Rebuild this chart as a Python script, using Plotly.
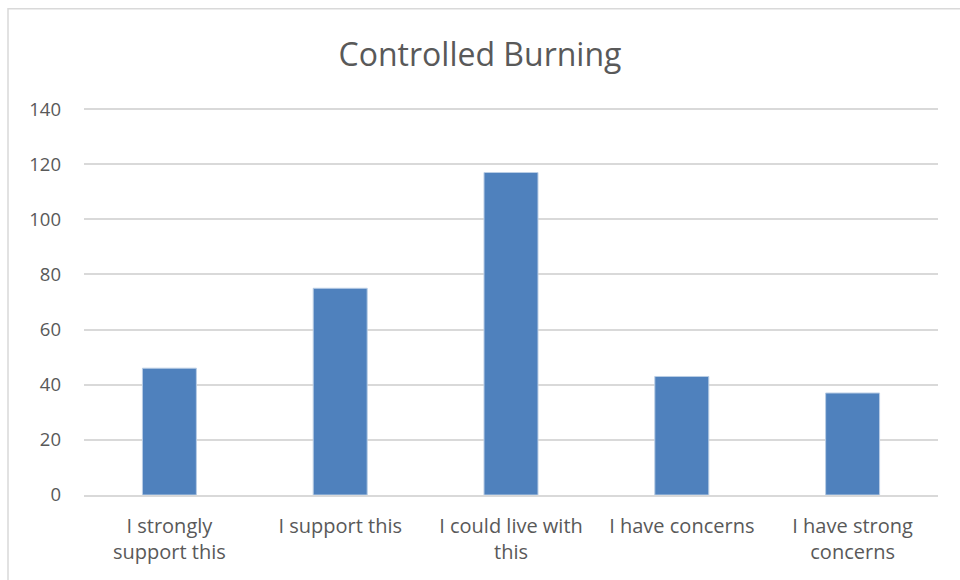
import plotly.graph_objects as go

# Survey responses: Controlled Burning
categories = [
    "I strongly<br>support this",
    "I support this",
    "I could live with<br>this",
    "I have concerns",
    "I have strong<br>concerns",
]
counts = [46, 75, 117, 43, 37]
y_ticks = [0, 20, 40, 60, 80, 100, 120, 140]

BAR_COLOR = "#4f81bd"
TEXT_COLOR = "#595959"
GRID_COLOR = "#d9d9d9"
FONT = "Open Sans, Liberation Sans, sans-serif"

fig = go.Figure()
fig.add_trace(go.Bar(
    x=categories, y=counts,
    marker_color=BAR_COLOR,
    marker_line=dict(color="#b9cde5", width=1),
    showlegend=False,
))

# outer chart frame (Excel chart area border), partly off-page
fig.add_shape(type="rect", xref="paper", yref="paper",
              x0=-0.089, x1=1.06, y0=-0.3, y1=1.2565,
              line=dict(color=GRID_COLOR, width=1.5), layer="below")

fig.update_layout(
    title=dict(text="Controlled Burning", x=0.5, xanchor="center",
               y=0.905, yanchor="middle",
               font=dict(family=FONT, size=32, color=TEXT_COLOR)),
    xaxis=dict(showgrid=False, showline=True, linecolor=GRID_COLOR,
               linewidth=1.5, ticks="", ticklabelstandoff=12,
               tickfont=dict(family=FONT, size=20, color=TEXT_COLOR)),
    yaxis=dict(range=[0, 140.4], tickvals=y_ticks, showgrid=True,
               gridcolor=GRID_COLOR, gridwidth=1.5, zeroline=False,
               ticks="", ticklabelstandoff=22,
               tickfont=dict(family=FONT, size=18.5, color=TEXT_COLOR)),
    bargap=0.684,
    plot_bgcolor="white", paper_bgcolor="white",
    width=960, height=580,
    margin=dict(l=84, r=22, t=108, b=85),
)

fig.write_html("out.html", config={"displayModeBar": False},
               post_script="document.body.style.margin='0';")
